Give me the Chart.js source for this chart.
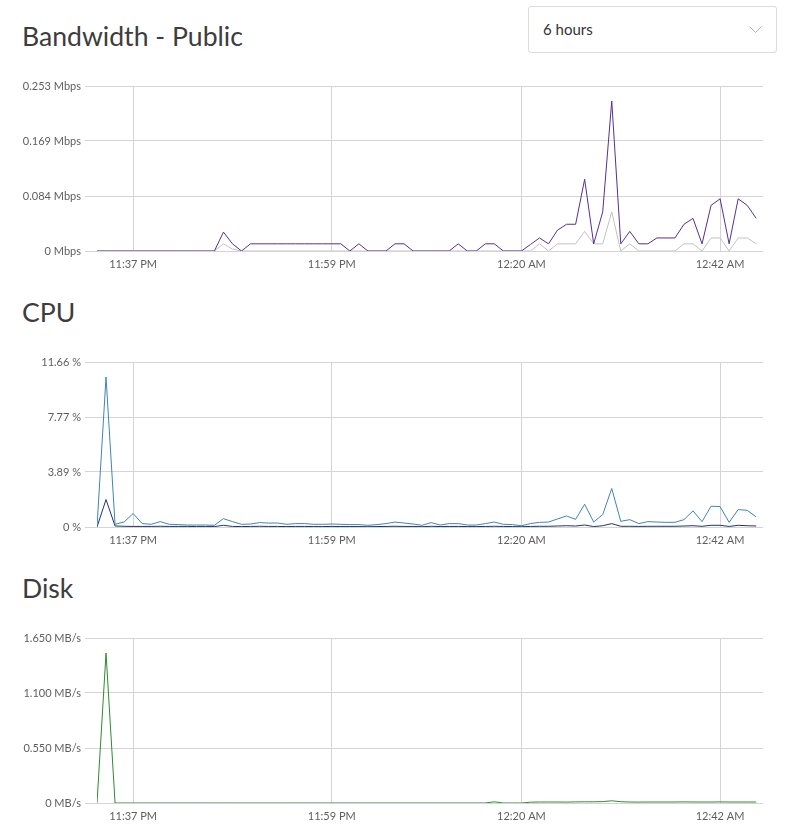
<!DOCTYPE html>
<html>
<head>
<meta charset="utf-8">
<script src="https://cdn.jsdelivr.net/npm/chart.js@4.4.0/dist/chart.umd.min.js"></script>
<style>
  html, body { margin: 0; padding: 0; background: #fff; }
  body { width: 788px; height: 839px; position: relative; font-family: Lato, "Open Sans", sans-serif; overflow: hidden; }
  .title { position: absolute; left: 22px; font-size: 26.6px; line-height: 32px; color: #3d3d3d; font-weight: 400; }
  .box { position: absolute; left: 0; width: 788px; height: 211px; }
  .select { position: absolute; left: 528px; top: 6px; width: 249px; height: 47px; box-sizing: border-box;
            border: 1px solid #dcdcdc; border-radius: 3px; font-size: 15px; line-height: 45px; color: #333; padding-left: 14px; }
  .select svg { position: absolute; right: 14px; top: 19px; }
</style>
</head>
<body>
<div class="title" style="top:20px">Bandwidth - Public</div>
<div class="select">6 hours
  <svg width="13" height="8" viewBox="0 0 13 8"><polyline points="0.5,0.5 6.5,6.5 12.5,0.5" fill="none" stroke="#b5b5b5" stroke-width="1"/></svg>
</div>
<div class="box" style="top:70px"><canvas id="bwChart"></canvas></div>

<div class="title" style="top:296px">CPU</div>
<div class="box" style="top:346px"><canvas id="cpuChart"></canvas></div>

<div class="title" style="top:572px">Disk</div>
<div class="box" style="top:622px"><canvas id="diskChart"></canvas></div>

<script>
// one sample per minute, starting 11:33 PM
const xTickPos = [4, 26, 47, 69];
const xTickLabels = ['11:37 PM', '11:59 PM', '12:20 AM', '12:42 AM'];

const bwOut = [
  0, 0, 0, 0, 0, 0, 0, 0, 0, 0,
  0, 0, 0, 0, 0.029, 0.011, 0, 0.011, 0.011, 0.011,
  0.011, 0.011, 0.011, 0.011, 0.011, 0.011, 0.011, 0.011, 0, 0.011,
  0, 0, 0, 0.011, 0.011, 0, 0, 0, 0, 0,
  0.011, 0, 0, 0.011, 0.011, 0, 0, 0, 0.010, 0.020,
  0.011, 0.032, 0.041, 0.041, 0.110, 0.011, 0.060, 0.230, 0.011, 0.030,
  0.011, 0.011, 0.020, 0.020, 0.020, 0.041, 0.050, 0.011, 0.070, 0.080,
  0.011, 0.080, 0.070, 0.050
];
const bwIn = [
  0, 0, 0, 0, 0, 0, 0, 0, 0, 0,
  0, 0, 0, 0, 0.011, 0.003, 0, 0, 0, 0,
  0, 0, 0, 0, 0, 0, 0, 0, 0, 0,
  0, 0, 0, 0, 0, 0, 0, 0, 0, 0,
  0, 0, 0, 0, 0, 0, 0, 0, 0, 0.011,
  0, 0.011, 0.011, 0.011, 0.030, 0.011, 0.011, 0.060, 0, 0.011,
  0, 0, 0, 0, 0, 0.011, 0.011, 0, 0.020, 0.020,
  0, 0.020, 0.020, 0.011
];
const bwTicks = [0, 0.0843, 0.1687, 0.253];
const bwTickLabels = ['0 Mbps', '0.084 Mbps', '0.169 Mbps', '0.253 Mbps'];

const cpuTotal = [
  0, 10.60, 0.19, 0.35, 0.95, 0.24, 0.19, 0.38, 0.19, 0.17,
  0.14, 0.14, 0.14, 0.12, 0.59, 0.38, 0.19, 0.21, 0.31, 0.28,
  0.28, 0.19, 0.24, 0.24, 0.19, 0.19, 0.21, 0.19, 0.17, 0.17,
  0.12, 0.17, 0.24, 0.35, 0.28, 0.21, 0.12, 0.31, 0.14, 0.24,
  0.24, 0.14, 0.14, 0.24, 0.35, 0.19, 0.17, 0.09, 0.24, 0.33,
  0.35, 0.57, 0.78, 0.54, 1.61, 0.35, 0.88, 2.72, 0.40, 0.52,
  0.24, 0.38, 0.35, 0.33, 0.33, 0.52, 1.14, 0.38, 1.47, 1.44,
  0.33, 1.23, 1.18, 0.71
];
const cpuSys = [
  0, 1.94, 0.07, 0.05, 0.04, 0.04, 0.04, 0.05, 0.04, 0.04,
  0.04, 0.03, 0.03, 0.03, 0.12, 0.04, 0.03, 0.04, 0.05, 0.04,
  0.04, 0.03, 0.04, 0.04, 0.03, 0.03, 0.04, 0.03, 0.03, 0.03,
  0.02, 0.03, 0.04, 0.05, 0.04, 0.04, 0.02, 0.05, 0.03, 0.04,
  0.04, 0.03, 0.03, 0.04, 0.05, 0.04, 0.03, 0.02, 0.04, 0.05,
  0.05, 0.07, 0.09, 0.07, 0.14, 0.03, 0.09, 0.24, 0.05, 0.05,
  0.04, 0.05, 0.05, 0.05, 0.05, 0.07, 0.09, 0.05, 0.12, 0.12,
  0.04, 0.12, 0.09, 0.07
];
const cpuTicks = [0, 3.887, 7.773, 11.66];
const cpuTickLabels = ['0 %', '3.89 %', '7.77 %', '11.66 %'];

const diskIo = [
  0, 1.50, 0, 0, 0, 0, 0, 0, 0, 0,
  0, 0, 0, 0, 0, 0, 0, 0, 0, 0,
  0, 0, 0, 0, 0, 0, 0, 0, 0, 0,
  0, 0, 0, 0, 0, 0, 0, 0, 0, 0,
  0, 0, 0, 0, 0.012, 0, 0, 0, 0.008, 0.010,
  0.010, 0.010, 0.009, 0.011, 0.012, 0.012, 0.014, 0.022, 0.013, 0.010,
  0.009, 0.010, 0.010, 0.010, 0.010, 0.011, 0.010, 0.010, 0.010, 0.011,
  0.010, 0.010, 0.010, 0.010
];
const diskTicks = [0, 0.55, 1.1, 1.65];
const diskTickLabels = ['0 MB/s', '0.550 MB/s', '1.100 MB/s', '1.650 MB/s'];

const tickFont = { family: 'Lato', size: 11 };
const gridColor = '#d4d4d4';

function points(arr) {
  return arr.map((v, i) => ({ x: i, y: v }));
}

function makeChart(id, datasets, yTicks, yLabels) {
  const ctx = document.getElementById(id).getContext('2d');
  return new Chart(ctx, {
    type: 'line',
    data: {
      datasets: datasets.map(d => ({
        data: points(d.values),
        borderColor: d.color,
        borderWidth: 1,
        pointRadius: 0,
        tension: 0,
        fill: false
      }))
    },
    options: {
      responsive: true,
      maintainAspectRatio: false,
      animation: false,
      layout: { padding: { top: 16, right: 25, left: 0, bottom: 0 } },
      plugins: { legend: { display: false }, tooltip: { enabled: false } },
      scales: {
        x: {
          type: 'linear',
          min: 0,
          max: 73.75,
          afterBuildTicks: scale => { scale.ticks = xTickPos.map(v => ({ value: v })); },
          afterFit: scale => { scale.height = 30; },
          border: { display: false },
          grid: { color: gridColor, drawTicks: false },
          ticks: {
            autoSkip: false, maxRotation: 0, padding: 7, color: '#5e5e5e', font: tickFont,
            callback: v => xTickLabels[xTickPos.indexOf(v)]
          }
        },
        y: {
          min: 0,
          max: yTicks[yTicks.length - 1],
          afterBuildTicks: scale => { scale.ticks = yTicks.map(v => ({ value: v })); },
          afterFit: scale => { scale.width = 97; },
          border: { display: false },
          grid: { color: gridColor, tickLength: 12 },
          ticks: {
            padding: 4, color: '#5e5e5e', font: tickFont,
            callback: v => yLabels[yTicks.findIndex(t => Math.abs(t - v) < 1e-6)]
          }
        }
      }
    }
  });
}

document.addEventListener('DOMContentLoaded', () => {
  makeChart('bwChart', [
    { values: bwOut, color: '#55318f' },
    { values: bwIn, color: '#c2c2c2' }
  ], bwTicks, bwTickLabels);

  makeChart('cpuChart', [
    { values: cpuTotal, color: '#3f86b0' },
    { values: cpuSys, color: '#1f3370' }
  ], cpuTicks, cpuTickLabels);

  makeChart('diskChart', [
    { values: diskIo, color: '#2f8a2f' }
  ], diskTicks, diskTickLabels);
});
</script>
</body>
</html>
